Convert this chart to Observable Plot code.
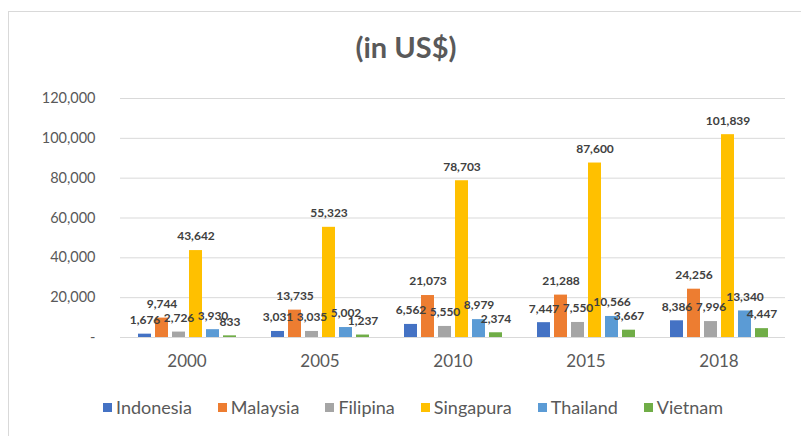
<!DOCTYPE html>
<html>
<head>
<meta charset="utf-8">
<script src="https://cdn.jsdelivr.net/npm/d3@7"></script>
<script src="https://cdn.jsdelivr.net/npm/@observablehq/plot@0.6"></script>
<style>
  html, body { margin: 0; padding: 0; background: #fff; }
  #wrap { position: relative; width: 801px; height: 436px; overflow: hidden; font-family: Lato, "Open Sans", sans-serif; }
  #frame { position: absolute; left: 8px; top: 11px; width: 820px; height: 460px; border: 1px solid #d9d9d9; box-sizing: border-box; }
  #title { position: absolute; left: 0; width: 812px; top: 29px; text-align: center; font-size: 29px; font-weight: bold; color: #595959; }
  #chart { position: absolute; left: 0; top: 80px; }
  #legend { position: absolute; left: 0; width: 826px; top: 396px; display: flex; justify-content: center; gap: 26px; font-size: 18px; color: #595959; }
  #legend .item { display: flex; align-items: center; gap: 4px; }
  #legend .sw { width: 9px; height: 9px; display: inline-block; }
</style>
</head>
<body>
<div id="wrap">
  <div id="frame"></div>
  <div id="title">(in US$)</div>
  <div id="chart"></div>
  <div id="legend"></div>
</div>
<script>
const years = ["2000", "2005", "2010", "2015", "2018"];
const countries = ["Indonesia", "Malaysia", "Filipina", "Singapura", "Thailand", "Vietnam"];
const colors = ["#4472C4", "#ED7D31", "#A5A5A5", "#FFC000", "#5B9BD5", "#70AD47"];
const indonesia = [1676, 3031, 6562, 7447, 8386];
const malaysia  = [9744, 13735, 21073, 21288, 24256];
const filipina  = [2726, 3035, 5550, 7550, 7996];
const singapura = [43642, 55323, 78703, 87600, 101839];
const thailand  = [3930, 5002, 8979, 10566, 13340];
const vietnam   = [833, 1237, 2374, 3667, 4447];
const yTicks = [0, 20000, 40000, 60000, 80000, 100000, 120000];

const series = [indonesia, malaysia, filipina, singapura, thailand, vietnam];
const data = [];
years.forEach((yr, i) => countries.forEach((c, j) => data.push({year: yr, country: c, value: series[j][i]})));
const fmt = d3.format(",");

const chart = Plot.plot({
  width: 801,
  height: 300,
  marginTop: 18,
  marginBottom: 43,
  marginLeft: 118,
  marginRight: 14,
  style: {fontFamily: "Lato, 'Open Sans', sans-serif", background: "transparent"},
  fx: {domain: years, padding: 0, label: null},
  x: {domain: countries, paddingInner: 0.25, paddingOuter: 0.85, axis: null},
  y: {domain: [0, 120000], label: null},
  color: {domain: countries, range: colors},
  marks: [
    Plot.gridY(yTicks, {stroke: "#d9d9d9", strokeOpacity: 1}),
    Plot.axisY(yTicks, {tickSize: 0, tickPadding: 25, fontSize: 14.5, fill: "#595959",
      tickFormat: d => d === 0 ? "-" : fmt(d), label: null}),
    Plot.axisFx({anchor: "bottom", tickSize: 0, tickPadding: 17, fontSize: 17, fill: "#595959", label: null}),
    Plot.barY(data, {fx: "year", x: "country", y: "value", fill: "country"}),
    Plot.ruleY([0], {stroke: "#d9d9d9"}),
    Plot.text(data, {fx: "year", x: "country", y: "value", text: d => fmt(d.value),
      dy: -14, fontSize: 12, fontWeight: "bold", fill: "#404040"})
  ]
});
document.getElementById("chart").appendChild(chart);

const legend = document.getElementById("legend");
countries.forEach((c, j) => {
  const it = document.createElement("div");
  it.className = "item";
  const sw = document.createElement("span");
  sw.className = "sw";
  sw.style.background = colors[j];
  const t = document.createElement("span");
  t.textContent = c;
  it.appendChild(sw); it.appendChild(t);
  legend.appendChild(it);
});
</script>
</body>
</html>
